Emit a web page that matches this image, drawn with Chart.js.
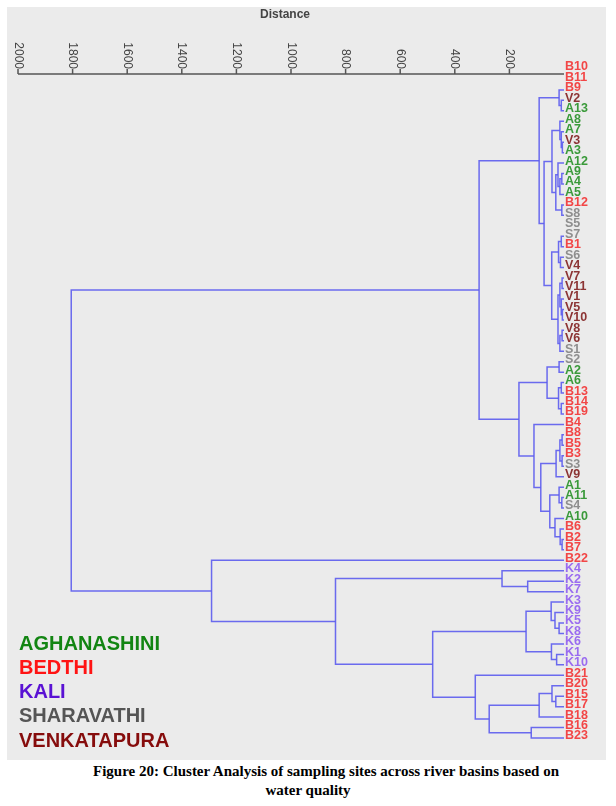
<!DOCTYPE html>
<html>
<head>
<meta charset="utf-8">
<script src="https://cdn.jsdelivr.net/npm/chart.js@4.4.0/dist/chart.umd.min.js"></script>
<style>
  body { margin: 0; background: #fff; }
  #wrap { width: 616px; height: 760px; position: relative; }
  #caption {
    width: 616px; text-align: center;
    font-family: "Liberation Serif", "Times New Roman", serif;
    font-weight: bold; font-size: 15px; line-height: 19px;
    margin-top: 2px; color: #000;
  }
  #caption .l1 { padding-left: 36px; }
</style>
</head>
<body>
<div id="wrap"><canvas id="myChart" width="616" height="760"></canvas></div>
<div id="caption"><div class="l1">Figure 20: Cluster Analysis of sampling sites across river basins based on</div><div>water quality</div></div>
<script>
// leaf order, top to bottom
const leaves = ['B10','B11','B9','V2','A13','A8','A7','V3','A3','A12','A9','A4','A5','B12','S8',
  'S5','S7','B1','S6','V4','V7','V11','V1','V5','V10','V8','V6','S1','S2','A2','A6','B13','B14',
  'B19','B4','B8','B5','B3','S3','V9','A1','A11','S4','A10','B6','B2','B7','B22','K4','K2','K7',
  'K3','K9','K5','K8','K6','K1','K10','B21','B20','B15','B17','B18','B16','B23'];

// merges: [child, child, distance]; a number refers to an earlier merge
const merges = [
  ['V2','A13',10], ['B9',0,18], ['V3','A3',6], ['A7',2,10], ['A8',3,15],
  ['A9','A4',8], [5,'A5',15], ['A12',6,22], ['B12','S8',8], [7,8,30],
  [4,9,44], ['S7','B1',10], ['S6','V4',13], [11,12,20], ['V7','V11',7],
  ['V5','V10',6], ['V1',15,10], [14,16,15], ['V8','V6',7], [18,'S1',15],
  [17,19,22], [13,20,45], [10,21,73], [1,22,91], ['S2','A2',18],
  ['A6','B13',10], ['B14','B19',10], [25,26,20], [24,27,62], ['B8','B5',7],
  ['B3','S3',7], [29,30,15], [31,'V9',29], ['A11','S4',8], ['A1',33,18],
  ['B2','B7',7], ['B6',35,14], ['A10',36,33], [34,37,52], [32,38,85],
  ['B4',39,110], [28,40,165], [23,41,311], ['K2','K7',133], ['K4',43,227],
  ['K5','K8',18], ['K9',45,33], ['K3',46,47], ['K1','K10',27], ['K6',48,46],
  [47,49,139], ['B15','B17',30], ['B20',51,44], [52,'B18',91], ['B16','B23',120],
  [53,54,274], ['B21',55,325], [50,56,481], [44,57,837], ['B22',58,1291],
  [42,59,1805]
];

const xTicks = [2000, 1800, 1600, 1400, 1200, 1000, 800, 600, 400, 200];

const basinCodes = ['A', 'B', 'K', 'S', 'V'];
const basinNames = ['AGHANASHINI', 'BEDTHI', 'KALI', 'SHARAVATHI', 'VENKATAPURA'];
const leafColors = ['#3a9a3a', '#f24646', '#9a6cf0', '#8e8e8e', '#8c3434'];
const legendColors = ['#128512', '#ff1414', '#5a12d4', '#555555', '#860c0c'];

const nodes = [];
function child(c) {
  if (typeof c === 'string') return { h: 0, y: leaves.indexOf(c) };
  return nodes[c];
}

const datasets = merges.map(m => {
  const a = child(m[0]);
  const b = child(m[1]);
  nodes.push({ h: m[2], y: (a.y + b.y) / 2 });
  return {
    data: [{ x: a.h, y: a.y }, { x: m[2], y: a.y }, { x: m[2], y: b.y }, { x: b.h, y: b.y }],
    showLine: true,
    borderColor: 'rgba(92, 92, 238, 0.9)',
    borderWidth: 1.5,
    pointRadius: 0,
    tension: 0,
    clip: false
  };
});

const decor = {
  id: 'decor',
  beforeDraw(chart) {
    const ctx = chart.ctx;
    ctx.save();
    ctx.fillStyle = '#ebebeb';
    ctx.fillRect(7, 7, 599, 753);
    ctx.restore();
  },
  afterDraw(chart) {
    const ctx = chart.ctx;
    const xs = chart.scales.x;
    const ys = chart.scales.y;
    const axisY = 74;
    ctx.save();

    // distance axis
    ctx.strokeStyle = '#555';
    ctx.lineWidth = 1.5;
    ctx.beginPath();
    ctx.moveTo(xs.getPixelForValue(2000), axisY);
    ctx.lineTo(xs.getPixelForValue(0), axisY);
    ctx.stroke();

    ctx.fillStyle = '#444';
    ctx.font = '12px "Liberation Sans", Arial, sans-serif';
    xTicks.forEach(v => {
      const px = xs.getPixelForValue(v);
      ctx.beginPath();
      ctx.moveTo(px, axisY);
      ctx.lineTo(px, axisY - 5);
      ctx.stroke();
      ctx.save();
      ctx.translate(px, axisY - 5);
      ctx.rotate(Math.PI / 2);
      ctx.textAlign = 'right';
      ctx.textBaseline = 'middle';
      ctx.fillText(String(v), 0, 0);
      ctx.restore();
    });

    ctx.font = 'bold 12px "Liberation Sans", Arial, sans-serif';
    ctx.textAlign = 'center';
    ctx.textBaseline = 'middle';
    ctx.fillText('Distance', 285, 15);

    // leaf labels
    ctx.font = 'bold 12.5px "Liberation Sans", Arial, sans-serif';
    ctx.textAlign = 'left';
    leaves.forEach((name, i) => {
      ctx.fillStyle = leafColors[basinCodes.indexOf(name[0])];
      ctx.fillText(name, xs.getPixelForValue(0) + 1, ys.getPixelForValue(i) - 2);
    });

    // basin legend
    ctx.font = 'bold 20px "Liberation Sans", Arial, sans-serif';
    basinNames.forEach((name, i) => {
      ctx.fillStyle = legendColors[i];
      ctx.fillText(name, 19, 644 + i * 24.3);
    });
    ctx.restore();
  }
};

new Chart(document.getElementById('myChart'), {
  type: 'scatter',
  data: { datasets: datasets },
  options: {
    responsive: false,
    animation: false,
    layout: { padding: { left: 18, right: 52, top: 69, bottom: 22 } },
    scales: {
      x: { type: 'linear', min: 0, max: 2000, reverse: true, display: false },
      y: { type: 'linear', min: 0, max: 64, reverse: true, display: false }
    },
    plugins: { legend: { display: false }, tooltip: { enabled: false } }
  },
  plugins: [decor]
});
</script>
</body>
</html>
